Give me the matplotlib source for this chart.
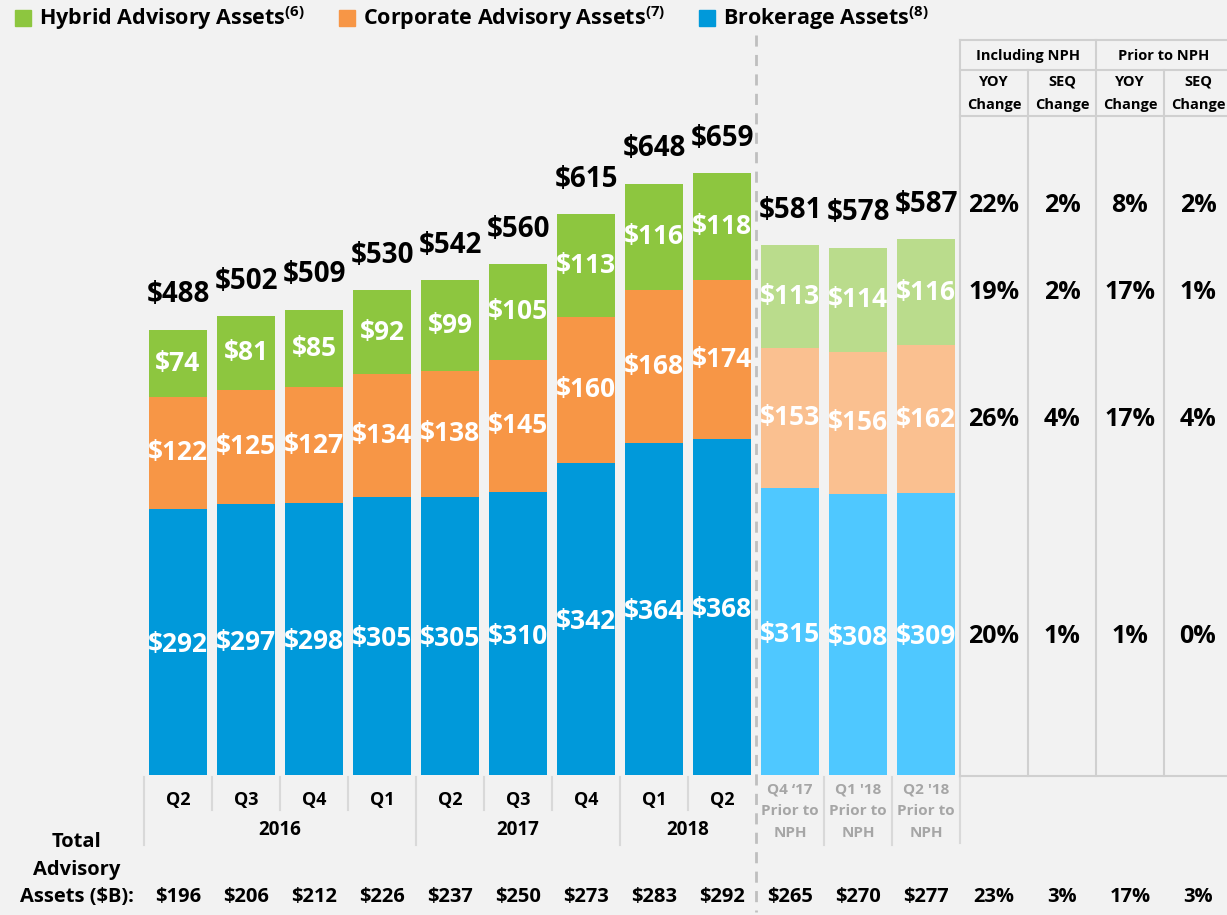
import matplotlib
matplotlib.use('Agg')
import matplotlib.pyplot as plt
from matplotlib.patches import Rectangle

plt.rcParams['font.family'] = ['Open Sans', 'DejaVu Sans']
plt.rcParams['font.weight'] = 'bold'
plt.rcParams['mathtext.fontset'] = 'custom'
plt.rcParams['mathtext.rm'] = 'Open Sans:bold'
plt.rcParams['mathtext.bf'] = 'Open Sans:bold'

# data ($B)
quarters = ['Q2', 'Q3', 'Q4', 'Q1', 'Q2', 'Q3', 'Q4', 'Q1', 'Q2']
years = ['2016', '2017', '2018']
year_spans = [(0, 3), (4, 6), (7, 8)]
npH_labels = ["Q4 \u201817", "Q1 '18", "Q2 '18"]
brokerage = [292, 297, 298, 305, 305, 310, 342, 364, 368, 315, 308, 309]
corporate = [122, 125, 127, 134, 138, 145, 160, 168, 174, 153, 156, 162]
hybrid = [74, 81, 85, 92, 99, 105, 113, 116, 118, 113, 114, 116]
totals = [488, 502, 509, 530, 542, 560, 615, 648, 659, 581, 578, 587]
total_advisory = [196, 206, 212, 226, 237, 250, 273, 283, 292, 265, 270, 277]

table_cols = ['Including NPH', 'Prior to NPH']
# rows: total, hybrid, corporate, brokerage ; cols: incl YOY, incl SEQ, prior YOY, prior SEQ
table_vals = [['22%', '2%', '8%', '2%'],
              ['19%', '2%', '17%', '1%'],
              ['26%', '4%', '17%', '4%'],
              ['20%', '1%', '1%', '0%']]
table_bottom = ['23%', '3%', '17%', '3%']

green, orange, blue = '#8DC63F', '#F79646', '#0099DA'
lgreen, lorange, lblue = '#BADC8C', '#FAC090', '#4FC8FF'
bg = '#F2F2F2'
grid = '#D0D0D0'

K = 0.9125  # pixels per $B
def px(x):
    return (x - 178) / 68.0
def py(y):
    return (775 - y) / K

fig = plt.figure(figsize=(12.27, 9.15), dpi=100, facecolor=bg)
ax = fig.add_axes([0, 0, 1, 1])
ax.set_facecolor(bg)
ax.set_xlim(px(0), px(1227))
ax.set_ylim(py(915), py(0))
ax.axis('off')

n = len(brokerage)
idx = list(range(n))
cb = [blue] * 9 + [lblue] * 3
co = [orange] * 9 + [lorange] * 3
cg = [green] * 9 + [lgreen] * 3
bot2 = [b + c for b, c in zip(brokerage, corporate)]
w = 0.84
ax.bar(idx, brokerage, width=w, color=cb)
ax.bar(idx, corporate, width=w, bottom=brokerage, color=co)
ax.bar(idx, hybrid, width=w, bottom=bot2, color=cg)

for i in idx:
    ax.text(i, brokerage[i] / 2 - 3, f'${brokerage[i]}', ha='center', va='center',
            color='white', fontsize=19, fontweight='bold')
    ax.text(i, brokerage[i] + corporate[i] / 2, f'${corporate[i]}', ha='center', va='center',
            color='white', fontsize=19, fontweight='bold')
    ax.text(i, bot2[i] + hybrid[i] / 2, f'${hybrid[i]}', ha='center', va='center',
            color='white', fontsize=19, fontweight='bold')
    top = bot2[i] + hybrid[i]
    ax.annotate(f'${totals[i]}', (i, top), xytext=(0, 25), textcoords='offset points',
                ha='center', va='center', fontsize=20, fontweight='bold', color='black')

# category axis
for i, q in enumerate(quarters):
    ax.text(i, py(800), q, ha='center', va='center', fontsize=13, fontweight='bold')
for (a, b), yr in zip(year_spans, years):
    ax.text((a + b) / 2, py(830), yr, ha='center', va='center', fontsize=13.5, fontweight='bold')
for j, lab in enumerate(npH_labels):
    x = 9 + j
    ax.text(x, py(789), lab, ha='center', va='center', fontsize=11, fontweight='bold', color='#A6A6A6')
    ax.text(x, py(811), 'Prior to', ha='center', va='center', fontsize=11, fontweight='bold', color='#A6A6A6')
    ax.text(x, py(833), 'NPH', ha='center', va='center', fontsize=11, fontweight='bold', color='#A6A6A6')

long_seps = [-0.5, 3.5, 6.5, 9.5, 10.5, 11.5]
for k in range(n):
    xs = k - 0.5
    if xs == 8.5:
        continue
    yb = 845 if xs in long_seps else 810
    ax.plot([xs, xs], [py(777), py(yb)], color='#D9D9D9', lw=1.5, clip_on=False)
ax.plot([11.5, 11.5], [py(777), py(843)], color='#D9D9D9', lw=1.5)

# dashed separator
ax.plot([8.5, 8.5], [py(35), py(912)], color='#BFBFBF', lw=2, ls=(0, (4, 3)))

# table
tx = [12, 13, 14, 15]
ax.plot([11.5, px(1227)], [py(40), py(40)], color=grid, lw=1.5)
ax.plot([11.5, px(1227)], [py(70), py(70)], color=grid, lw=1.5)
ax.plot([11.5, px(1227)], [py(116), py(116)], color=grid, lw=1.5)
ax.plot([11.5, px(1227)], [py(776), py(776)], color=grid, lw=1.5)
for xs, yt in [(11.5, 40), (12.5, 70), (13.5, 40), (14.5, 70)]:
    ax.plot([xs, xs], [py(yt), py(776)], color=grid, lw=1.5)
ax.text(12.5, py(56), table_cols[0], ha='center', va='center', fontsize=10.5, fontweight='bold')
ax.text(14.5, py(56), table_cols[1], ha='center', va='center', fontsize=10.5, fontweight='bold')
for x, h in zip(tx, ['YOY', 'SEQ', 'YOY', 'SEQ']):
    ax.text(x, py(82), h, ha='center', va='center', fontsize=10.5, fontweight='bold')
    ax.text(x, py(105), 'Change', ha='center', va='center', fontsize=10.5, fontweight='bold')

last = n - 1
row_y = [py(205),
         bot2[last] + hybrid[last] / 2,
         brokerage[last] + corporate[last] / 2,
         brokerage[last] / 2 - 3]
for r, yv in enumerate(row_y):
    for c, x in enumerate(tx):
        ax.text(x, yv, table_vals[r][c], ha='center', va='center', fontsize=18, fontweight='bold')

# bottom totals row
ax.text(px(77), py(842), 'Total', ha='center', va='center', fontsize=14.5, fontweight='bold')
ax.text(px(77), py(870), 'Advisory', ha='center', va='center', fontsize=14.5, fontweight='bold')
ax.text(px(77), py(897), 'Assets ($B):', ha='center', va='center', fontsize=14.5, fontweight='bold')
for i, v in enumerate(total_advisory):
    ax.text(i, py(897), f'${v}', ha='center', va='center', fontsize=14.5, fontweight='bold')
for x, v in zip(tx, table_bottom):
    ax.text(x, py(897), v, ha='center', va='center', fontsize=14.5, fontweight='bold')

# legend
legend_items = [(green, 15, 'Hybrid Advisory Assets$^{(6)}$'),
                (orange, 339, 'Corporate Advisory Assets$^{(7)}$'),
                (blue, 699, 'Brokerage Assets$^{(8)}$')]
for col, x0, lab in legend_items:
    fig.patches.append(Rectangle((x0 / 1227, 1 - 26 / 915), 16 / 1227, 16 / 915,
                                 transform=fig.transFigure, color=col))
    fig.text((x0 + 24) / 1227, 1 - 18 / 915, lab, ha='left', va='center',
             fontsize=15.5, fontweight='bold')

fig.savefig('out.png', dpi=100, facecolor=bg)
